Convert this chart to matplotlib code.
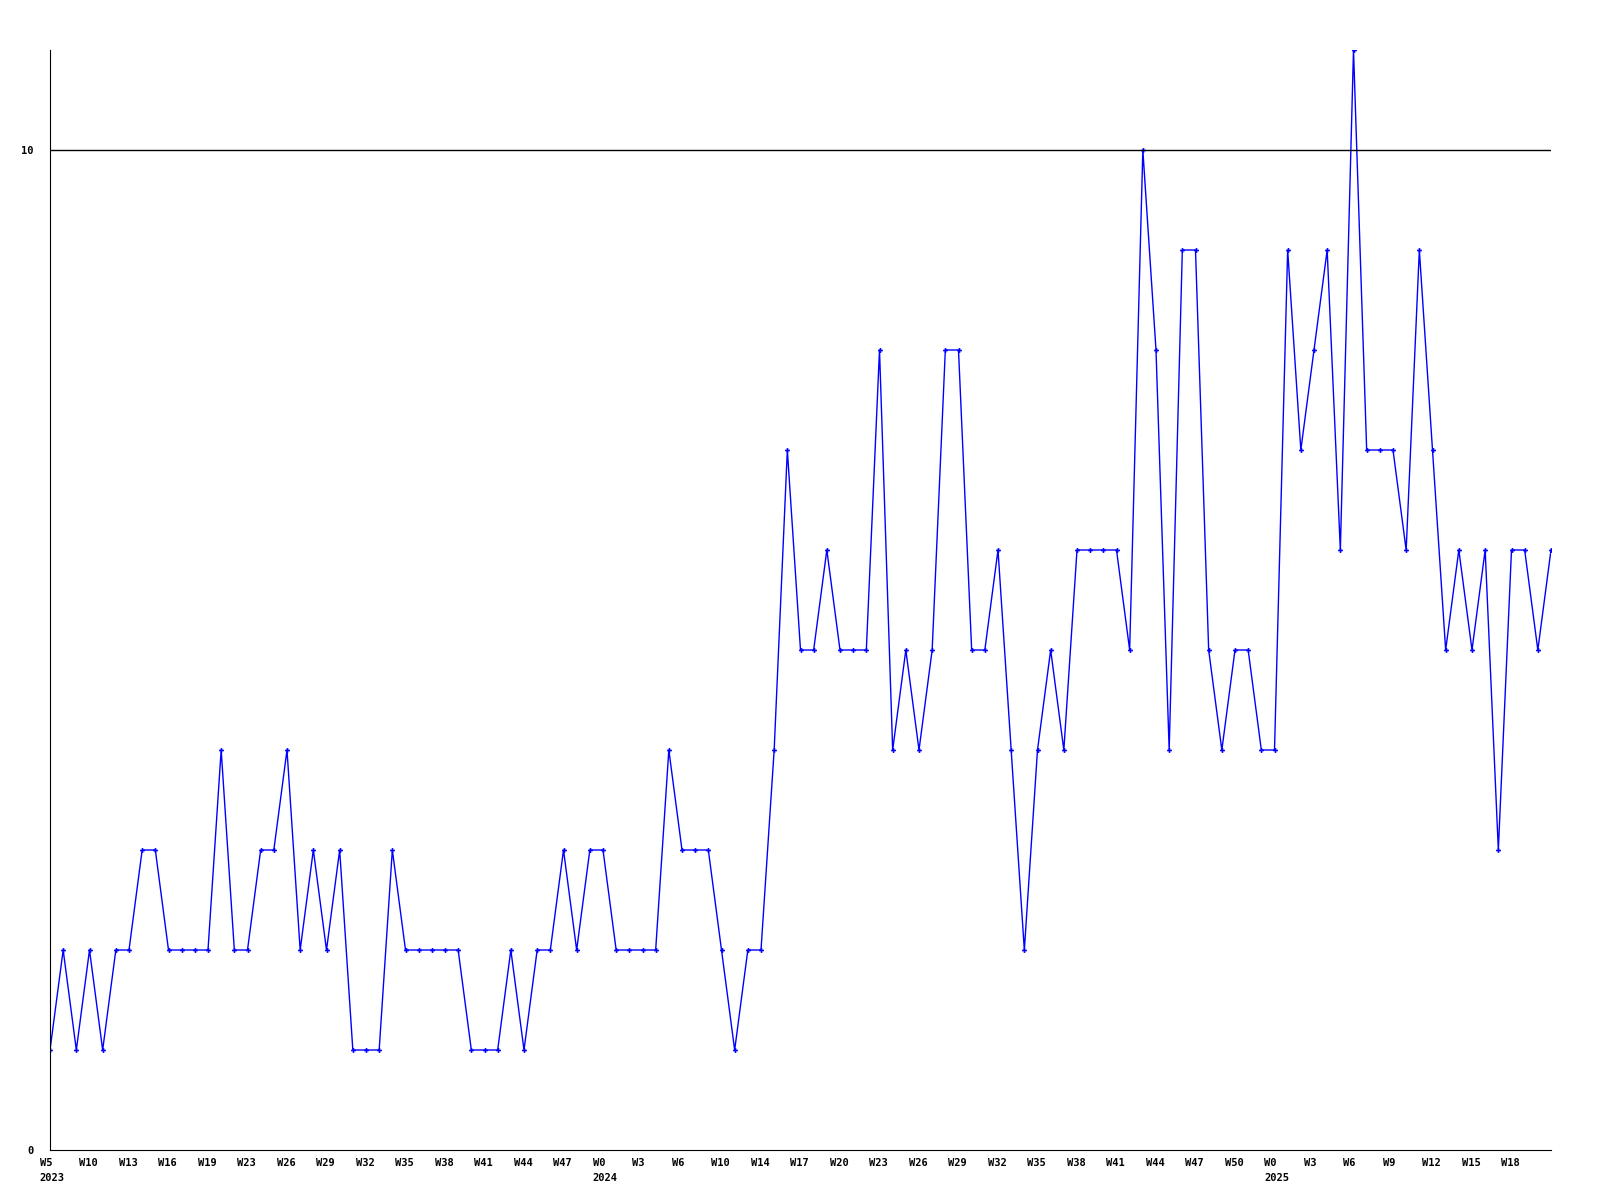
import matplotlib
matplotlib.use("Agg")
import matplotlib.pyplot as plt

plt.rcParams.update({
    "font.family": "DejaVu Sans Mono",
    "font.weight": "bold",
    "font.size": 7.5,
})

# weekly values, one per point
values = [1, 2, 1, 2, 1, 2, 2, 3, 3, 2, 2, 2, 2, 4, 2, 2, 3, 3, 4, 2,
          3, 2, 3, 1, 1, 1, 3, 2, 2, 2, 2, 2, 1, 1, 1, 2, 1, 2, 2, 3,
          2, 3, 3, 2, 2, 2, 2, 4, 3, 3, 3, 2, 1, 2, 2, 4, 7, 5, 5, 6,
          5, 5, 5, 8, 4, 5, 4, 5, 8, 8, 5, 5, 6, 4, 2, 4, 5, 4, 6, 6,
          6, 6, 5, 10, 8, 4, 9, 9, 5, 4, 5, 5, 4, 4, 9, 7, 8, 9, 6, 11,
          7, 7, 7, 6, 9, 7, 5, 6, 5, 6, 3, 6, 6, 5, 6]

week_labels = ["W5", "W10", "W13", "W16", "W19", "W23", "W26", "W29", "W32", "W35",
               "W38", "W41", "W44", "W47", "W0", "W3", "W6", "W10", "W14", "W17",
               "W20", "W23", "W26", "W29", "W32", "W35", "W38", "W41", "W44", "W47",
               "W50", "W0", "W3", "W6", "W9", "W12", "W15", "W18"]
label_step = 3
year_labels = ["2023", "2024", "2025"]
year_label_idx = [0, 14, 31]

fig = plt.figure(figsize=(16, 12), dpi=100)
ax = fig.add_axes([50 / 1600, 50 / 1200, 1501 / 1600, 1100 / 1200])

x = list(range(len(values)))
ax.plot(x, values, color="#0000FF", lw=1, marker="P", ms=3.5, mew=0)
ax.axhline(10, color="black", lw=1)

ax.set_xlim(0, len(values) - 1)
ax.set_ylim(0, 11)
ticks = [i * label_step for i in range(len(week_labels))]
ax.set_xticks([])
ax.set_yticks([0, 10], ["0", "10"])
ax.tick_params(axis="y", length=0, pad=12)

# labels start a little left of their point, years under them
for t, lab in zip(ticks, week_labels):
    ax.annotate(lab, xy=(t, 0), xycoords=("data", "axes fraction"),
                xytext=(-7.3, -6), textcoords="offset points",
                ha="left", va="top")
for lab, i in zip(year_labels, year_label_idx):
    ax.annotate(lab, xy=(ticks[i], 0), xycoords=("data", "axes fraction"),
                xytext=(-7.3, -16.5), textcoords="offset points",
                ha="left", va="top")

ax.spines[["top", "right"]].set_visible(False)
ax.spines[["left", "bottom"]].set_color("black")

fig.savefig("out.png", dpi=100)
